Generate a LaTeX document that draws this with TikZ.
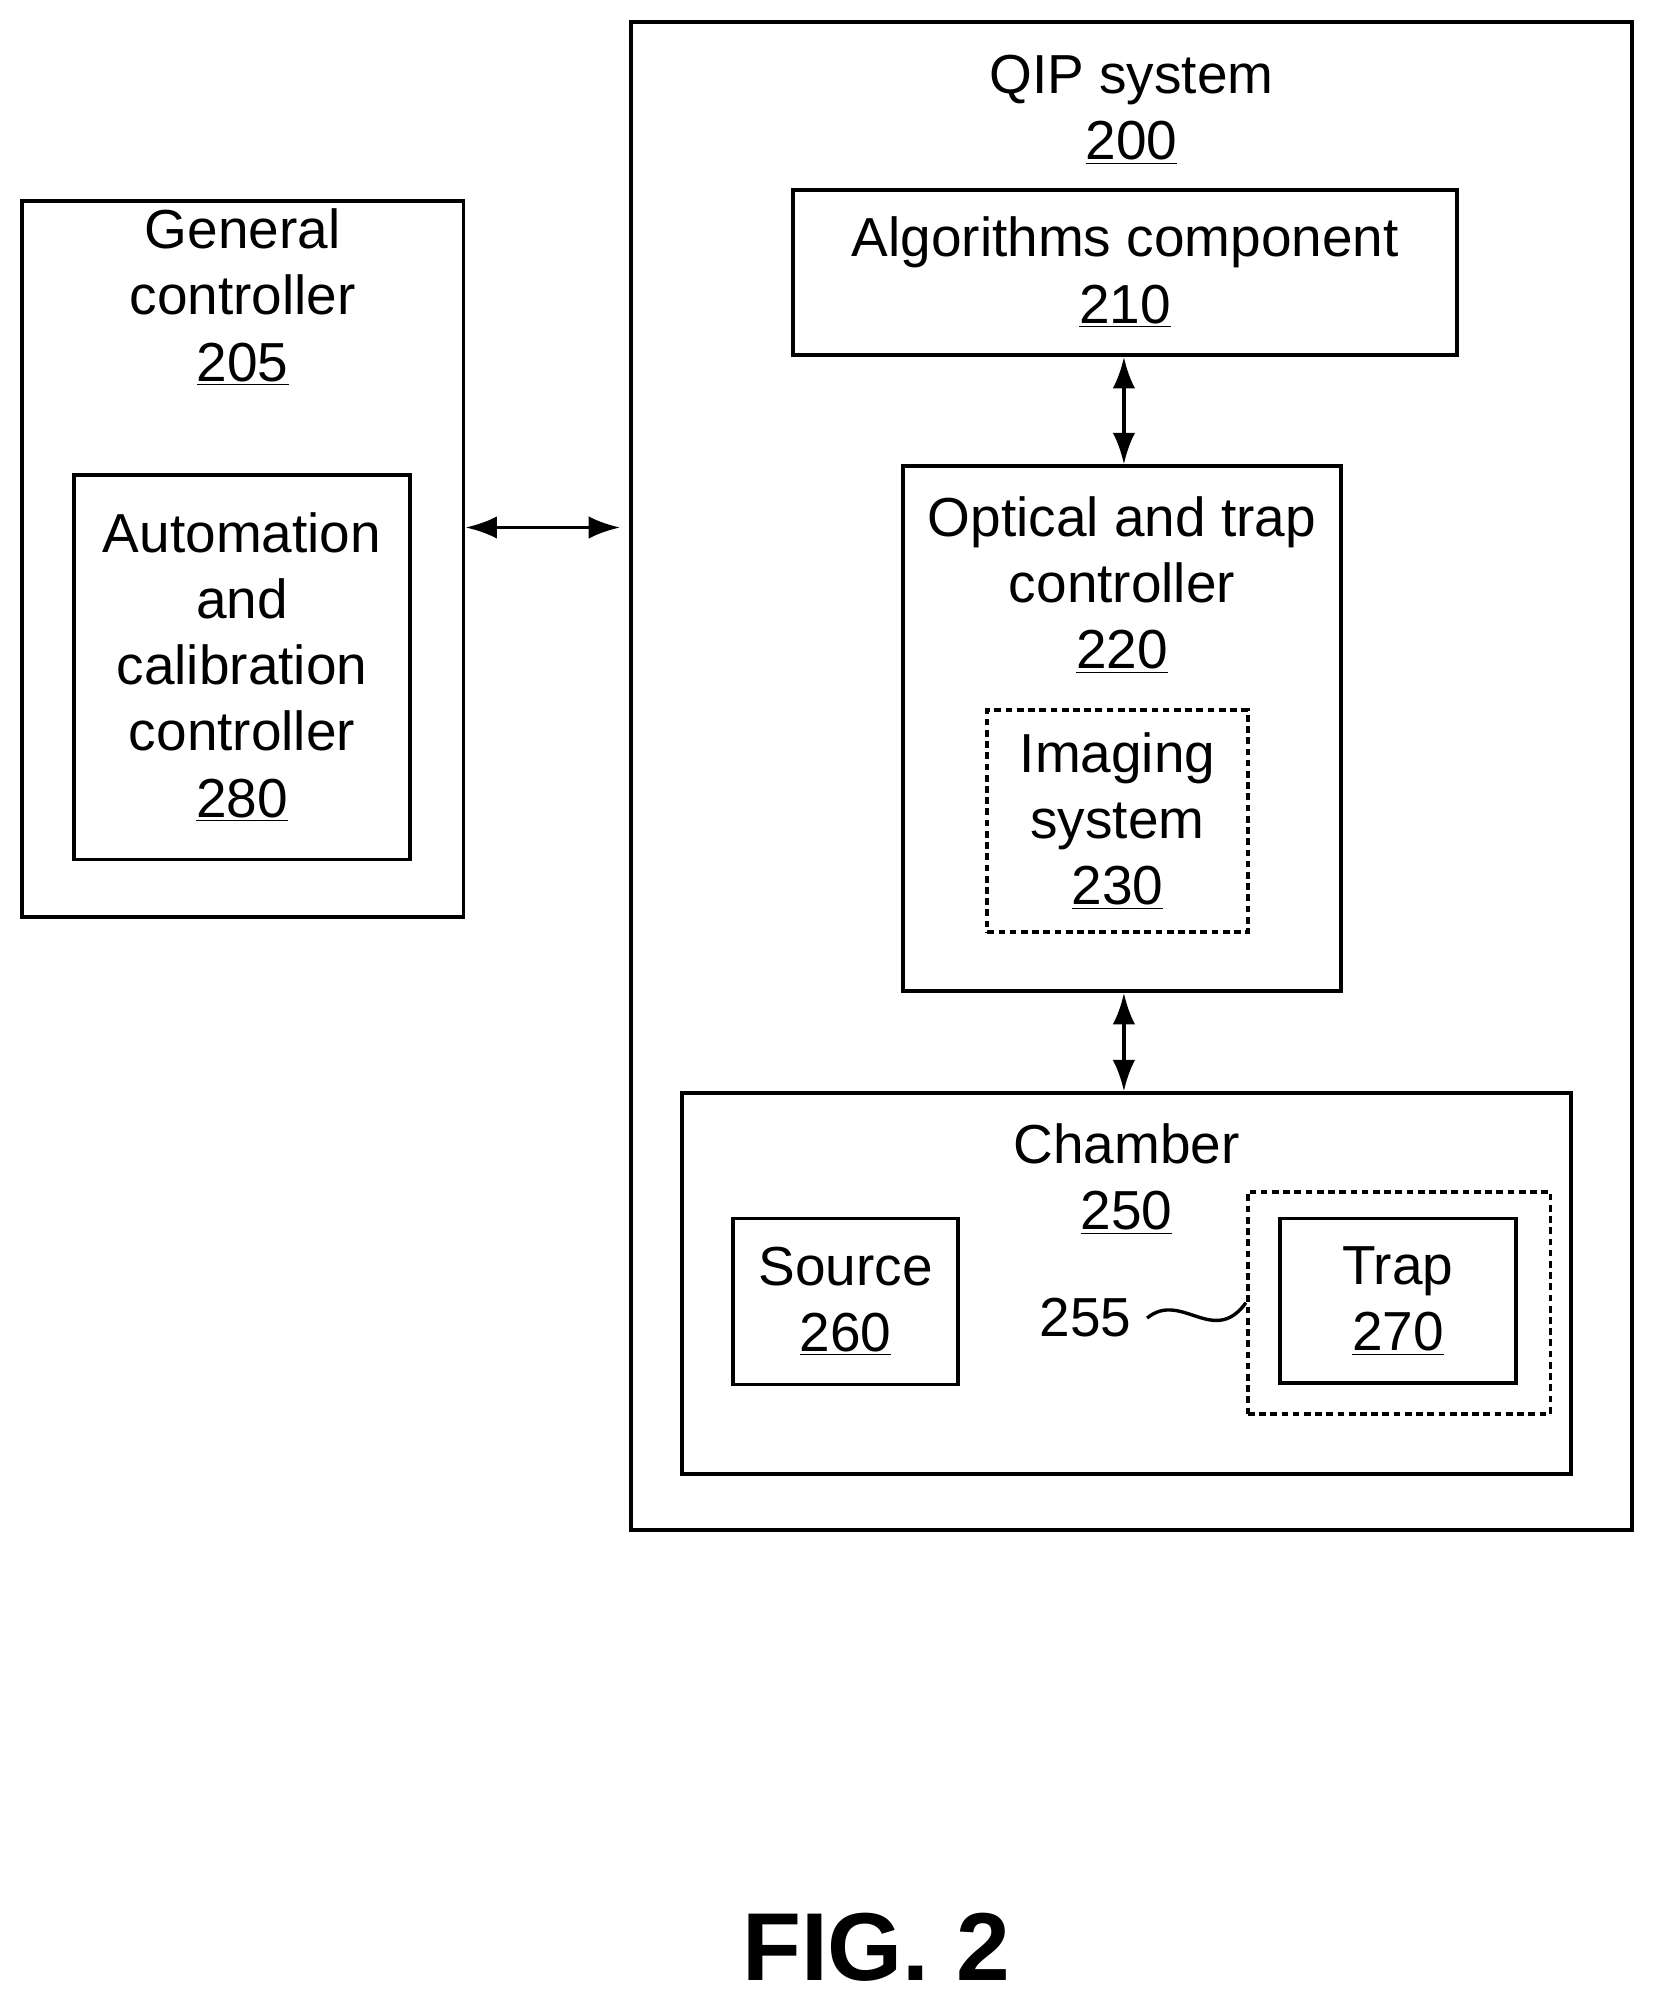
\documentclass[tikz,border=0pt]{standalone}
\usepackage{fontspec}
\setmainfont{Liberation Sans}
\usetikzlibrary{arrows.meta}
\begin{document}
\begin{tikzpicture}
[x=0.02cm,y=-0.02cm,
box/.style={rectangle,draw=black,line width=1.7pt,inner sep=0pt},
dbox/.style={rectangle,draw=black,line width=1.7pt,dash pattern=on 3pt off 2pt,inner sep=0pt},
lbl/.style={align=center,font=\fontsize{24.5}{29.5}\selectfont},
arr/.style={{Latex[length=14pt,width=10pt]}-{Latex[length=14pt,width=10pt]},line width=1.7pt},
]
\useasboundingbox (0,0) rectangle (1300,1573);

\node[box,minimum width=6.92cm,minimum height=11.22cm] (gen) at (190,437.5){};
\node[lbl] (gent) at (190,233){General\\controller\\\underline{205}};
\node[box,minimum width=5.26cm,minimum height=6.02cm,lbl] (auto) at (189.5,522.5){Automation\\and\\calibration\\controller\\\underline{280}};

\node[box,minimum width=15.68cm,minimum height=23.62cm] (qip) at (886,607.5){};
\node[lbl] (qipt) at (886,86){QIP system\\\underline{200}};
\node[box,minimum width=10.4cm,minimum height=2.58cm,lbl] (alg) at (881,213.5){Algorithms component\\\underline{210}};
\node[box,minimum width=6.86cm,minimum height=8.22cm] (opt) at (878.5,570.5){};
\node[lbl] (optt) at (878.5,458){Optical and trap\\controller\\\underline{220}};
\node[dbox,minimum width=4.08cm,minimum height=3.48cm,lbl] (img) at (875,643){Imaging\\system\\\underline{230}};

\node[box,minimum width=13.92cm,minimum height=5.96cm] (cham) at (882,1005){};
\node[lbl] (chamt) at (882,923){Chamber\\\underline{250}};
\node[box,minimum width=3.52cm,minimum height=2.6cm,lbl] (src) at (662,1019){Source\\\underline{260}};
\node[dbox,minimum width=4.74cm,minimum height=3.48cm] (trapo) at (1095.5,1020){};
\node[box,minimum width=3.7cm,minimum height=2.58cm,lbl] (trap) at (1094.5,1018.5){Trap\\\underline{270}};
\node[lbl] (num) at (850,1032){255};

\draw[arr,shorten >=4pt] (gen.east|-0,413) -- (qip.west|-0,413);
\draw[arr] (alg.south-|880,0) -- (opt.north-|880,0);
\draw[arr] (opt.south-|880,0) -- (cham.north-|880,0);
\draw[line width=1.5pt] (num.east)++(6,0) .. controls (925,1010) and (950,1055) .. (trapo.west);

\node[font=\fontsize{43}{50}\bfseries] (fig) at (686,1525){FIG. 2};
\end{tikzpicture}
\end{document}
